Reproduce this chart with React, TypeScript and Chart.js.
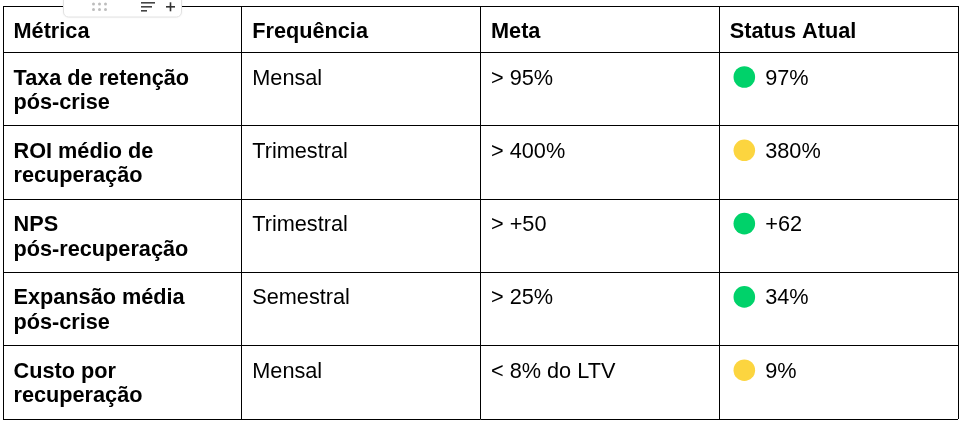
import React, { useEffect, useRef } from "react";
import { Chart, registerables } from "chart.js";

Chart.register(...registerables);

// ---- data ----
const headers = ["Métrica", "Frequência", "Meta", "Status Atual"];
const metricas = [
  "Taxa de retenção\npós-crise",
  "ROI médio de\nrecuperação",
  "NPS\npós-recuperação",
  "Expansão média\npós-crise",
  "Custo por\nrecuperação",
];
const frequencias = ["Mensal", "Trimestral", "Trimestral", "Semestral", "Mensal"];
const metas = ["> 95%", "> 400%", "> +50", "> 25%", "< 8% do LTV"];
const statusValores = ["97%", "380%", "+62", "34%", "9%"];
const statusNiveis = ["ok", "atencao", "ok", "ok", "atencao"];

// ---- layout / style ----
const W = 961;
const H = 421;
const HEADER_H = 46.5;
const ROW_H = 73.3;
const FONT_FAMILY = '"Liberation Sans", Arial, sans-serif';
const FONT_SIZE = 21.7;
const LINE_H = 24.5;
const PAD_X = 10.5;
const BASELINE_DY = 32;
const STATUS_TEXT_DX = 46;
const DOT_DX_UNITS = 0.105;
const DOT_DY = 24.5;
const STATUS_COLORS: Record<string, string> = { ok: "#00D26A", atencao: "#FCD53F" };

const rowTops = [0, ...metricas.map((_, i) => HEADER_H + i * ROW_H)];
const tableBottom = HEADER_H + metricas.length * ROW_H;
const boundaries = [...rowTops, tableBottom];

const tablePlugin = {
  id: "tableText",
  afterDraw(chart: any) {
    const { ctx, scales } = chart;
    const xs = scales.x;
    const ys = scales.y;
    ctx.save();
    ctx.fillStyle = "#000";
    ctx.textBaseline = "alphabetic";
    ctx.textAlign = "left";

    const drawCell = (text: string, col: number, rowTop: number, bold: boolean, dx = PAD_X) => {
      ctx.font = `${bold ? "bold " : ""}${FONT_SIZE}px ${FONT_FAMILY}`;
      const x = xs.getPixelForValue(col) + dx;
      const y0 = ys.getPixelForValue(rowTop) + BASELINE_DY;
      text.split("\n").forEach((line, k) => ctx.fillText(line, x, y0 + k * LINE_H));
    };

    headers.forEach((h, c) => drawCell(h, c, 0, true));
    metricas.forEach((m, i) => {
      const top = rowTops[i + 1];
      drawCell(m, 0, top, true);
      drawCell(frequencias[i], 1, top, false);
      drawCell(metas[i], 2, top, false);
      drawCell(statusValores[i], 3, top, false, STATUS_TEXT_DX);
    });

    // editor toolbar overlay
    ctx.save();
    ctx.shadowColor = "rgba(0,0,0,0.08)";
    ctx.shadowBlur = 3;
    ctx.fillStyle = "#fff";
    ctx.strokeStyle = "#e2e2e2";
    ctx.lineWidth = 1;
    ctx.beginPath();
    (ctx as any).roundRect(63.5, -6, 118, 23, 5);
    ctx.fill();
    ctx.shadowColor = "transparent";
    ctx.stroke();
    ctx.restore();
    ctx.fillStyle = "#bdbdbd";
    [93.5, 99.5, 105.5].forEach((dx) => {
      [4, 9.5].forEach((dy) => {
        ctx.beginPath();
        ctx.arc(dx, dy, 1.5, 0, Math.PI * 2);
        ctx.fill();
      });
    });
    ctx.fillStyle = "#444";
    ctx.fillRect(141, 2, 14, 1.6);
    ctx.fillRect(141, 6, 11, 1.6);
    ctx.fillRect(141, 10, 6, 1.6);
    ctx.fillStyle = "#333";
    ctx.fillRect(166, 6, 9, 1.6);
    ctx.fillRect(169.7, 2.3, 1.6, 9);
    ctx.restore();
  },
};

export default function App() {
  const ref = useRef<HTMLCanvasElement | null>(null);
  useEffect(() => {
    if (!ref.current) return;
    const chart = new Chart(ref.current, {
      type: "scatter",
      data: {
        datasets: [
          {
            data: statusNiveis.map((_, i) => ({ x: 3 + DOT_DX_UNITS, y: rowTops[i + 1] + DOT_DY })),
            pointRadius: 10.8,
            pointHoverRadius: 10.8,
            pointBorderWidth: 0,
            pointBackgroundColor: statusNiveis.map((s) => STATUS_COLORS[s]),
            pointBorderColor: statusNiveis.map((s) => STATUS_COLORS[s]),
            clip: false,
          },
        ],
      },
      options: {
        animation: false,
        responsive: false,
        events: [],
        layout: { autoPadding: false, padding: { left: 3, top: 6, right: 3, bottom: 2 } },
        plugins: { legend: { display: false }, tooltip: { enabled: false } },
        scales: {
          x: {
            type: "linear",
            min: 0,
            max: 4,
            ticks: { display: false, stepSize: 1, padding: 0 },
            grid: { color: "#000", lineWidth: 1, drawTicks: false, tickLength: 0 },
            border: { display: false },
          },
          y: {
            type: "linear",
            reverse: true,
            min: 0,
            max: tableBottom,
            afterBuildTicks: (scale: any) => {
              scale.ticks = boundaries.map((v) => ({ value: v }));
            },
            ticks: { display: false, padding: 0 },
            grid: { color: "#000", lineWidth: 1, drawTicks: false, tickLength: 0 },
            border: { display: false },
          },
        },
      },
      plugins: [tablePlugin],
    } as any);
    return () => chart.destroy();
  }, []);
  return (
    <div style={{ position: "absolute", left: 0, top: 0, width: W, height: H, background: "#fff" }}>
      <canvas ref={ref} width={W} height={H} style={{ display: "block", width: W, height: H }} />
    </div>
  );
}
